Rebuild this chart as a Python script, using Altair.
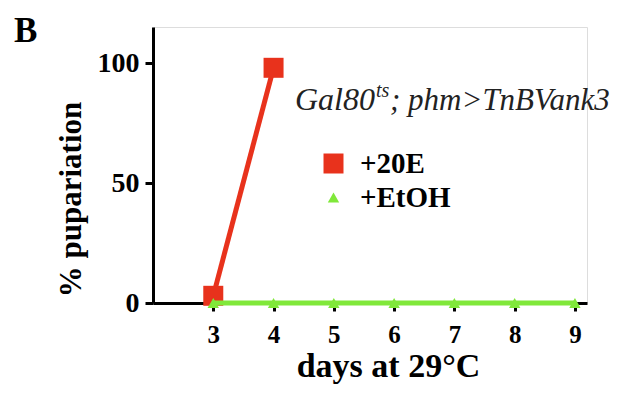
import altair as alt
import pandas as pd

days_20e = [3, 4]
vals_20e = [3, 98]
days_etoh = [3, 4, 5, 6, 7, 8, 9]
vals_etoh = [0, 0, 0, 0, 0, 0, 0]
series_names = ["+20E", "+EtOH"]
series_colors = ["#e8321c", "#80e83a"]
series_shapes = ["square", "triangle-up"]
x_ticks = [3, 4, 5, 6, 7, 8, 9]
y_ticks = [0, 50, 100]
genotype = ["Gal80", "ts", "; phm>TnBVank3"]

df = pd.DataFrame(
    {"day": days_20e, "pct": vals_20e, "series": ["+20E"] * len(days_20e)}
)
df2 = pd.DataFrame(
    {"day": days_etoh, "pct": vals_etoh, "series": ["+EtOH"] * len(days_etoh)}
)
data = pd.concat([df, df2], ignore_index=True)

FONT = "Liberation Serif"
IFONT = "Liberation Serif"

xs = alt.Scale(domain=[2, 9.2], nice=False, zero=False)
ys = alt.Scale(domain=[0, 115], nice=False)
col = alt.Scale(domain=series_names, range=series_colors)
shp = alt.Scale(domain=series_names, range=series_shapes)
siz = alt.Scale(domain=series_names, range=[400, 130])

x_enc = alt.X(
    "day:Q", scale=xs,
    axis=alt.Axis(values=x_ticks, format="d", title="days at 29°C", grid=False,
                  domainColor="black", domainWidth=3, tickColor="black",
                  tickWidth=3, tickSize=8, labelFont=FONT, labelFontWeight="bold",
                  labelFontSize=25, labelColor="black", labelPadding=11,
                  titleFont=FONT, titleFontWeight="bold", titleFontSize=34,
                  titleColor="black", titleX=235, titleY=63,
                  titleBaseline="middle"),
)
y_enc = alt.Y(
    "pct:Q", scale=ys,
    axis=alt.Axis(values=y_ticks, title="% pupariation", grid=False,
                  domainColor="black", domainWidth=3, tickColor="black",
                  tickWidth=3, tickSize=8, labelFont=FONT, labelFontWeight="bold",
                  labelFontSize=28, labelColor="black", labelPadding=6,
                  titleFont=FONT, titleFontWeight="bold", titleFontSize=31,
                  titleColor="black", titleX=-82, titleY=172, titleAngle=-90,
                  titleBaseline="middle", titleAlign="center"),
)

color_enc = alt.Color(
    "series:N", scale=col,
    legend=alt.Legend(orient="none", legendX=166, legendY=122, title=None,
                      labelFont=FONT, labelFontWeight="bold", labelFontSize=29,
                      labelColor="black", rowPadding=4, symbolStrokeWidth=0,
                      labelOffset=12, symbolOpacity=1),
)
shape_enc = alt.Shape("series:N", scale=shp)
size_enc = alt.Size("series:N", scale=siz)

base = alt.Chart(data)

lines = base.mark_line(strokeWidth=5).encode(
    x=x_enc, y=y_enc, color=color_enc,
    order=alt.Order("day:Q"), detail="series:N",
)
points = base.mark_point(filled=True, opacity=1).encode(
    x="day:Q", y="pct:Q", color=color_enc, shape=shape_enc, size=size_enc,
)

red_line = lines.transform_filter(alt.datum.series == "+20E")
green_line = lines.transform_filter(alt.datum.series == "+EtOH")
red_pts = points.transform_filter(alt.datum.series == "+20E")
green_pts = points.transform_filter(alt.datum.series == "+EtOH")

label_B = alt.Chart(pd.DataFrame({"t": ["B"]})).mark_text(
    font=FONT, fontWeight="bold", fontSize=35, color="black", align="left",
    baseline="middle",
).encode(x=alt.value(-139), y=alt.value(4), text="t:N")

geno_a = alt.Chart(pd.DataFrame({"t": [genotype[0]]})).mark_text(
    font=IFONT, fontStyle="italic", fontSize=32, color="#222", align="left",
    baseline="alphabetic",
).encode(x=alt.value(142), y=alt.value(83), text="t:N")
geno_b = alt.Chart(pd.DataFrame({"t": [genotype[1]]})).mark_text(
    font=IFONT, fontStyle="italic", fontSize=20, color="#222", align="left",
    baseline="alphabetic",
).encode(x=alt.value(223), y=alt.value(70), text="t:N")
geno_c = alt.Chart(pd.DataFrame({"t": [genotype[2]]})).mark_text(
    font=IFONT, fontStyle="italic", fontSize=31, color="#222", align="left",
    baseline="alphabetic",
).encode(x=alt.value(237), y=alt.value(83), text="t:N")

chart = alt.layer(
    red_line, red_pts, green_line, green_pts, label_B, geno_a, geno_b, geno_c
).properties(
    width=434, height=276,
    padding={"left": 145, "top": 19, "right": 27, "bottom": 83},
    autosize=alt.AutoSizeParams(type="none"),
).configure_view(stroke=None).configure(background="white")

chart.save("out.html", embed_options={"renderer": "svg", "actions": False})
